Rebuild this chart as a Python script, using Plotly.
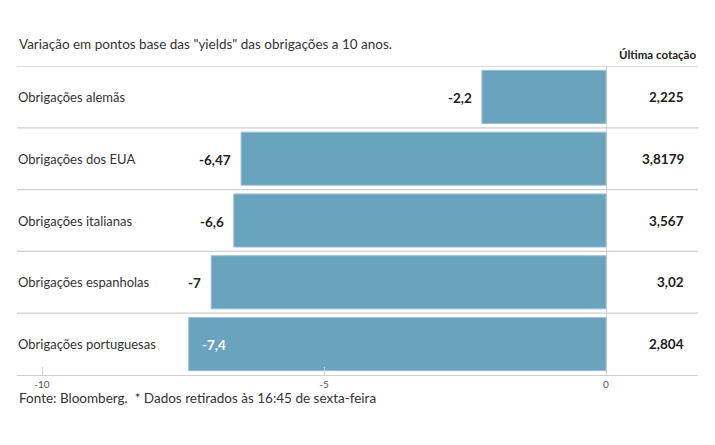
import plotly.graph_objects as go

categories = ["Obrigações alemãs", "Obrigações dos EUA", "Obrigações italianas",
              "Obrigações espanholas", "Obrigações portuguesas"]
changes = [-2.2, -6.47, -6.6, -7.0, -7.4]
change_labels = ["-2,2", "-6,47", "-6,6", "-7", "-7,4"]
last_quotes = ["2,225", "3,8179", "3,567", "3,02", "2,804"]
tick_vals = [-10, -5, 0]
tick_text = ["-10", "-5", "0"]

FONT = "Lato"
BAR = "#6aa3bd"
W, H = 715, 445
ML, MR, MT, MB = 17, 17, 66, 70

idx = list(range(len(categories)))

fig = go.Figure(go.Bar(
    x=changes, y=idx, orientation="h",
    marker=dict(color=BAR, line=dict(color="#9cc1d3", width=1)),
    width=0.86, hoverinfo="skip",
))

ann = []
for i, (c, v, lab, q) in enumerate(zip(categories, changes, change_labels, last_quotes)):
    ann.append(dict(x=0, xref="paper", y=i, yref="y", text=c, showarrow=False,
                    xanchor="left", yanchor="middle", xshift=-1, yshift=0,
                    font=dict(family=FONT, size=13, color="#333")))
    inside = (i == len(categories) - 1)
    ann.append(dict(x=v, xref="x", y=i, yref="y", text=f"<b>{lab}</b>", showarrow=False,
                    xanchor="left" if inside else "right",
                    xshift=11 if inside else -8, yanchor="middle", yshift=-1,
                    font=dict(family=FONT, size=13.5, color="#fff" if inside else "#222")))
    ann.append(dict(x=(686 - ML) / (W - ML - MR), xref="paper", y=i, yref="y",
                    text=f"<b>{q}</b>", showarrow=False, xanchor="right", yanchor="middle",
                    font=dict(family=FONT, size=13.5, color="#222")))

ann.append(dict(x=1, xref="paper", y=1, yref="paper", yshift=3, text="<b>Última cotação</b>",
                showarrow=False, xanchor="right", yanchor="bottom",
                font=dict(family=FONT, size=11.5, color="#222")))
ann.append(dict(x=0, xref="paper", y=1, yref="paper", yshift=12,
                text='Variação em pontos base das "yields" das obrigações a 10 anos.',
                showarrow=False, xanchor="left", yanchor="bottom",
                font=dict(family=FONT, size=13.5, color="#333")))
ann.append(dict(x=0, xref="paper", y=0, yref="paper", yshift=-33,
                text="Fonte: Bloomberg.  * Dados retirados às 16:45 de sexta-feira",
                showarrow=False, xanchor="left", yanchor="bottom",
                font=dict(family=FONT, size=13.5, color="#333")))

shapes = []
for b in [-0.5 + k for k in range(len(categories))]:
    shapes.append(dict(type="line", xref="paper", x0=0, x1=1, yref="y", y0=b, y1=b,
                       line=dict(color="#cfcfcf", width=1.3), layer="below"))

# x range: -10 at px 42, 0 at px 606
scale = (606 - 42) / 10.0
x0 = -(606 - ML) / scale
x1 = (W - MR - 606) / scale

fig.update_layout(
    width=W, height=H, margin=dict(l=ML, r=MR, t=MT, b=MB),
    paper_bgcolor="white", plot_bgcolor="white", showlegend=False,
    bargap=0.14,
    xaxis=dict(range=[x0, x1], tickvals=tick_vals, ticktext=tick_text,
               ticks="inside", ticklen=8, tickcolor="#cfcfcf", tickwidth=1,
               showgrid=False, zeroline=True, zerolinecolor="#cfcfcf", zerolinewidth=1,
               showline=True, linecolor="#cfcfcf", linewidth=1.3,
               tickfont=dict(family=FONT, size=10, color="#555"), fixedrange=True),
    yaxis=dict(range=[len(categories) - 0.5, -0.5], showticklabels=False, showgrid=False,
               zeroline=False, showline=False, fixedrange=True),
    annotations=ann, shapes=shapes,
)

fig.write_html("out.html", config={"displayModeBar": False},
               post_script="document.body.style.margin='0';document.body.style.overflow='hidden';")
